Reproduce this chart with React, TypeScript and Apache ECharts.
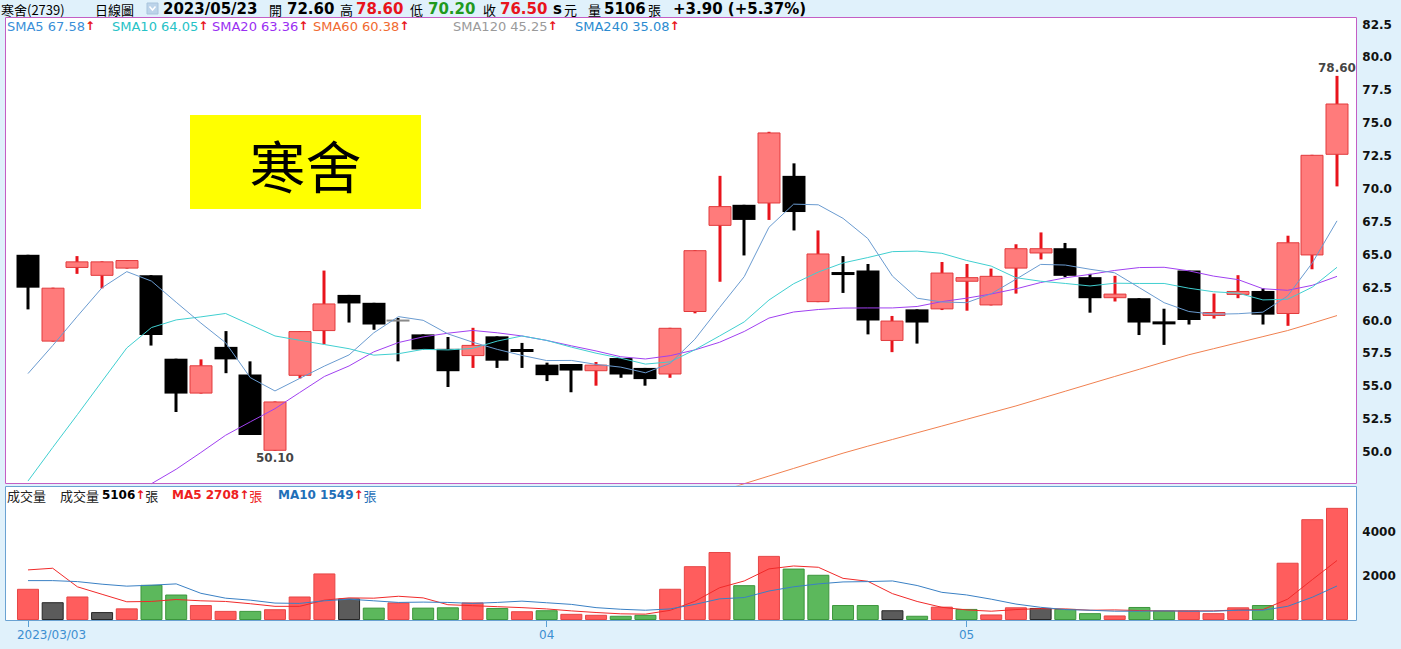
import React, { useEffect, useRef } from 'react';
import * as echarts from 'echarts';

// ---------- data ----------
const dates = [
  '2023/03/03', '2023/03/06', '2023/03/07', '2023/03/08', '2023/03/09', '2023/03/10',
  '2023/03/13', '2023/03/14', '2023/03/15', '2023/03/16', '2023/03/17',
  '2023/03/20', '2023/03/21', '2023/03/22', '2023/03/23', '2023/03/24',
  '2023/03/27', '2023/03/28', '2023/03/29', '2023/03/30', '2023/03/31',
  '2023/04/06', '2023/04/07', '2023/04/10', '2023/04/11', '2023/04/12', '2023/04/13', '2023/04/14',
  '2023/04/17', '2023/04/18', '2023/04/19', '2023/04/20', '2023/04/21',
  '2023/04/24', '2023/04/25', '2023/04/26', '2023/04/27', '2023/04/28',
  '2023/05/02', '2023/05/03', '2023/05/04', '2023/05/05',
  '2023/05/08', '2023/05/09', '2023/05/10', '2023/05/11', '2023/05/12',
  '2023/05/15', '2023/05/16', '2023/05/17', '2023/05/18', '2023/05/19',
  '2023/05/22', '2023/05/23',
];

const opens = [
  65.0, 58.4, 64.0, 63.4, 63.95, 63.45, 57.1, 54.45, 58.0, 55.9, 50.1,
  55.8, 59.2, 61.95, 61.35, 60.0, 58.95, 57.85, 57.3, 58.8, 57.75,
  56.65, 56.7, 56.15, 57.15, 56.4, 55.9, 60.65, 67.2, 68.8, 68.9, 71.0, 61.4,
  63.6, 63.8, 58.45, 60.85, 60.85, 62.95, 61.15, 63.95, 65.1, 65.5, 63.3, 61.7,
  61.7, 59.85, 63.8, 60.35, 61.95, 62.25, 60.5, 64.95, 72.6,
];
const highs = [
  65.0, 62.5, 64.9, 64.5, 64.6, 63.45, 57.1, 57.05, 59.2, 56.9, 53.85,
  59.2, 63.8, 61.95, 61.35, 60.2, 58.95, 58.75, 59.45, 58.8, 58.3,
  56.8, 56.7, 56.85, 57.15, 56.4, 59.45, 65.35, 71.0, 68.8, 74.35, 71.95, 66.85,
  64.9, 64.3, 60.35, 60.85, 64.45, 64.3, 63.95, 65.8, 66.7, 65.9, 63.55, 63.4,
  61.7, 60.9, 63.8, 62.05, 63.45, 62.45, 66.45, 72.6, 78.6,
];
const lows = [
  60.85, 58.4, 63.55, 62.45, 63.95, 58.1, 53.05, 54.45, 56.0, 51.3, 50.1,
  55.6, 58.2, 59.85, 59.3, 56.9, 57.8, 54.95, 56.4, 56.4, 56.4,
  55.4, 54.55, 55.05, 55.65, 55.05, 55.65, 60.55, 62.95, 64.95, 67.65, 66.85, 61.4,
  62.1, 58.95, 57.6, 58.25, 60.8, 60.75, 61.15, 62.05, 64.65, 63.3, 60.6, 61.45,
  58.9, 58.15, 59.7, 60.15, 61.7, 59.7, 59.6, 63.9, 70.2,
];
const closes = [
  62.5, 62.5, 64.5, 64.5, 64.6, 58.9, 54.45, 56.6, 57.05, 51.3, 53.85,
  59.2, 61.3, 61.3, 59.7, 60.0, 57.8, 56.15, 58.15, 56.95, 57.7,
  55.85, 56.2, 56.65, 55.9, 55.55, 59.45, 65.35, 68.7, 67.65, 74.3, 68.25, 65.1,
  63.55, 60.0, 60.0, 59.85, 63.65, 63.3, 63.4, 65.5, 65.5, 63.4, 61.7, 62.05,
  59.85, 59.8, 60.05, 60.65, 62.25, 60.45, 65.95, 72.6, 76.5,
];
const volumes = [
  1420, 810, 1070, 360, 530, 1600, 1160, 680, 415, 415, 490,
  1070, 2120, 980, 563, 800, 563, 578, 800, 548, 400,
  444, 281, 237, 193, 237, 1422, 2450, 3096, 1585, 2919, 2341, 2059,
  681, 681, 444, 193, 607, 504, 252, 578, 548, 504, 311, 207,
  593, 430, 430, 311, 578, 681, 2607, 4590, 5106,
];

const sma5 = [
  55.97, 58.1, 60.33, 62.5, 63.72, 63.0, 61.39, 59.81, 58.32, 55.66, 54.65,
  55.6, 56.54, 57.39, 59.07, 60.3, 60.02, 58.99, 58.36, 57.81, 57.35,
  56.96, 56.97, 56.67, 56.46, 56.03, 56.75, 58.58, 60.99, 63.34, 67.09, 68.85, 68.8,
  67.77, 66.24, 63.38, 61.7, 61.41, 61.36, 62.04, 63.14, 64.27, 64.22, 63.9, 63.63,
  62.5, 61.36, 60.69, 60.48, 60.52, 60.64, 61.87, 64.38, 67.58,
];
const sma10 = [
  47.8, 50.35, 52.85, 55.39, 57.92, 59.47, 60.05, 60.28, 60.54, 59.69, 58.83,
  58.5, 58.18, 57.86, 57.37, 57.48, 57.81, 57.77, 57.88, 58.44, 58.83,
  58.49, 57.98, 57.52, 57.14, 56.69, 56.86, 57.78, 58.83, 59.9, 61.56, 62.8, 63.69,
  64.38, 64.79, 65.24, 65.28, 65.11, 64.57, 64.14, 63.26, 62.99, 62.82, 62.63, 62.84,
  62.82, 62.82, 62.46, 62.19, 62.08, 61.57, 61.62, 62.54, 64.05,
];
const sma20 = [
  null, null, null, null, null, 47.6, 48.7, 49.97, 51.28, 52.3, 53.3,
  54.53, 55.75, 56.55, 57.62, 58.33, 58.76, 59.04, 59.25, 59.07, 58.83,
  58.49, 58.08, 57.69, 57.25, 57.08, 57.33, 57.77, 58.35, 59.17, 60.19, 60.65, 60.84,
  60.95, 60.96, 60.96, 61.07, 61.44, 61.7, 62.02, 62.41, 62.89, 63.25, 63.51, 63.81,
  64.03, 64.05, 63.78, 63.38, 63.11, 62.42, 62.3, 62.68, 63.36,
];
const sma60 = [
  null, null, null, null, null, null, null, null, null, null, null,
  null, null, null, null, null, null, null, null, null, null,
  null, null, null, null, null, null, null, 47.0, 47.6, 48.18, 48.76, 49.34,
  49.92, 50.45, 50.96, 51.47, 51.98, 52.49, 53.0, 53.51, 54.07, 54.63, 55.19, 55.75,
  56.3, 56.86, 57.4, 57.86, 58.32, 58.78, 59.24, 59.8, 60.38,
];
const sma120Last = 45.25;
const sma240Last = 35.08;

const volMa5 = [
  2281, 2356, 1511, 1170, 830, 844, 933, 874, 844, 741, 622,
  622, 904, 1007, 993, 1081, 1007, 696, 652, 607, 563,
  504, 415, 341, 281, 267, 440, 850, 1467, 1778, 2326, 2459, 2400,
  1896, 1763, 1200, 844, 578, 459, 400, 474, 519, 504, 444, 459,
  430, 415, 415, 415, 459, 474, 948, 1837, 2708,
];
const volMa10 = [
  1793, 1793, 1748, 1630, 1541, 1585, 1644, 1215, 993, 904, 770,
  756, 874, 948, 874, 800, 815, 800, 756, 800, 859,
  785, 711, 563, 489, 444, 504, 711, 963, 1022, 1319, 1511, 1644,
  1733, 1748, 1778, 1570, 1259, 1141, 948, 726, 578, 474, 444, 400,
  400, 415, 400, 400, 444, 444, 622, 1037, 1549,
];

const priceTicks = [50, 52.5, 55, 57.5, 60, 62.5, 65, 67.5, 70, 72.5, 75, 77.5, 80, 82.5];
const volumeTicks = [2000, 4000];
const stockName = '寒舍(2739)';
const stockTitle = '寒舍';

// ---------- colors ----------
const BG = '#e0f1fb';
const RED = '#e8141c';
const GREEN = '#1f9a1f';

export default function App() {
  const ref = useRef<HTMLDivElement>(null);

  useEffect(() => {
    if (!ref.current) return;
    const chart = echarts.init(ref.current, null, { renderer: 'svg' });
    const n = dates.length;
    const last = n - 1;

    const candleData = dates.map((_, i) => [i, opens[i], closes[i], lows[i], highs[i]]);

    const volData = volumes.map((v, i) => {
      const prev = i > 0 ? closes[i - 1] : -Infinity;
      let color = '#ff5d5d', border = '#e64646';
      if (closes[i] < prev) { color = '#5cb85c'; border = '#3c963c'; }
      else if (closes[i] === prev) { color = '#5b5b5b'; border = '#262626'; }
      return { value: v, itemStyle: { color, borderColor: border, borderWidth: 1 } };
    });

    const showLabelIdx = (idx: number) => {
      if (idx === 0) return true;
      return dates[idx].slice(5, 7) !== dates[idx - 1].slice(5, 7);
    };

    let hiIdx = 0, loIdx = 0;
    highs.forEach((h, i) => { if (h > highs[hiIdx]) hiIdx = i; });
    lows.forEach((l, i) => { if (l < lows[loIdx]) loIdx = i; });

    const prevClose = closes[last - 1];
    const chg = closes[last] - prevClose;
    const pct = (chg / prevClose) * 100;
    const sign = chg >= 0 ? '+' : '-';

    const numFont = 'DejaVu Sans';
    const cjk = 'Noto Sans CJK TC';

    const headerItems: any[] = [
      { x: 1, text: stockName, size: 13, bold: false, color: '#000', font: cjk },
      { x: 95, text: '日線圖', size: 13, bold: false, color: '#000', font: cjk },
      { x: 163, text: dates[last], size: 15, bold: true, color: '#000', font: numFont },
      { x: 269, text: '開', size: 13, bold: false, color: '#000', font: cjk },
      { x: 287, text: opens[last].toFixed(2), size: 15, bold: true, color: '#000', font: numFont },
      { x: 340, text: '高', size: 13, bold: false, color: '#000', font: cjk },
      { x: 356, text: highs[last].toFixed(2), size: 15, bold: true, color: RED, font: numFont },
      { x: 410, text: '低', size: 13, bold: false, color: '#000', font: cjk },
      { x: 428, text: lows[last].toFixed(2), size: 15, bold: true, color: GREEN, font: numFont },
      { x: 483, text: '收', size: 13, bold: false, color: '#000', font: cjk },
      { x: 500, text: closes[last].toFixed(2), size: 15, bold: true, color: RED, font: numFont },
      { x: 553, text: 's', size: 15, bold: true, color: '#000', font: numFont },
      { x: 564, text: '元', size: 13, bold: false, color: '#000', font: cjk },
      { x: 588, text: '量', size: 13, bold: false, color: '#000', font: cjk },
      { x: 604, text: String(volumes[last]), size: 15, bold: true, color: '#000', font: numFont },
      { x: 648, text: '張', size: 13, bold: false, color: '#000', font: cjk },
      { x: 673, text: `${sign}${Math.abs(chg).toFixed(2)} (${sign}${Math.abs(pct).toFixed(2)}%)`, size: 15, bold: true, color: '#000', font: numFont },
    ];

    const legendItems = [
      { x: 7, name: 'SMA5', v: sma5[last] as number, color: '#3a8fd8' },
      { x: 112, name: 'SMA10', v: sma10[last] as number, color: '#26c2c6' },
      { x: 212, name: 'SMA20', v: sma20[last] as number, color: '#9a2ff2' },
      { x: 313, name: 'SMA60', v: sma60[last] as number, color: '#f06a30' },
      { x: 453, name: 'SMA120', v: sma120Last, color: '#9a9a9a' },
      { x: 575, name: 'SMA240', v: sma240Last, color: '#2b8bd0' },
    ];

    const graphics: any[] = [
      { type: 'rect', z: -10, shape: { x: 5, y: 17, width: 1352, height: 467 }, style: { fill: '#ffffff' } },
      { type: 'rect', z: -10, shape: { x: 5, y: 486, width: 1352, height: 135 }, style: { fill: '#ffffff' } },
      { type: 'rect', z: 50, shape: { x: 5.5, y: 17.5, width: 1351, height: 466 }, style: { fill: 'none', stroke: '#c45ec4', lineWidth: 1 } },
      { type: 'rect', z: 50, shape: { x: 5.5, y: 486.5, width: 1351, height: 134 }, style: { fill: 'none', stroke: '#6aa2d2', lineWidth: 1 } },
      { type: 'rect', z: 50, shape: { x: 147, y: 3, width: 11, height: 11 }, style: { fill: '#bcd4ea', stroke: '#a9c4dc', lineWidth: 1 } },
      { type: 'polyline', z: 51, shape: { points: [[149.5, 6.5], [152.5, 10], [155.5, 6.5]] }, style: { stroke: '#ffffff', lineWidth: 1.5, fill: 'none' } },
      { type: 'rect', z: 40, shape: { x: 190, y: 115, width: 231, height: 94 }, style: { fill: '#ffff00' } },
      {
        type: 'text', z: 41, x: 305.5, y: 163,
        style: { text: stockTitle, fontSize: 56, fontFamily: cjk, fill: '#000', align: 'center', verticalAlign: 'middle' },
      },
      {
        type: 'text', z: 60, x: 7, y: 495,
        style: { text: '成交量', fontSize: 13, fontFamily: cjk, fill: '#222', verticalAlign: 'middle' },
      },
      {
        type: 'text', z: 60, x: 60, y: 495,
        style: {
          text: `{n|成交量 }{b|${volumes[last]}}{r|↑}{n|張}`, verticalAlign: 'middle',
          rich: {
            n: { fontSize: 13, fontFamily: cjk, fill: '#222' },
            b: { fontSize: 12, fontFamily: numFont, fontWeight: 'bold', fill: '#000' },
            r: { fontSize: 12, fontFamily: numFont, fontWeight: 'bold', fill: RED },
          },
        },
      },
      {
        type: 'text', z: 60, x: 172, y: 495,
        style: {
          text: `{b|MA5 ${volMa5[last]}}{r|↑}{n|張}`, verticalAlign: 'middle',
          rich: {
            n: { fontSize: 13, fontFamily: cjk, fill: '#ee2020' },
            b: { fontSize: 12, fontFamily: numFont, fontWeight: 'bold', fill: '#ee2020' },
            r: { fontSize: 12, fontFamily: numFont, fontWeight: 'bold', fill: RED },
          },
        },
      },
      {
        type: 'text', z: 60, x: 278, y: 495,
        style: {
          text: `{b|MA10 ${volMa10[last]}}{r|↑}{n|張}`, verticalAlign: 'middle',
          rich: {
            n: { fontSize: 13, fontFamily: cjk, fill: '#1f6fb8' },
            b: { fontSize: 12, fontFamily: numFont, fontWeight: 'bold', fill: '#1f6fb8' },
            r: { fontSize: 12, fontFamily: numFont, fontWeight: 'bold', fill: RED },
          },
        },
      },
    ];

    headerItems.forEach((h) => {
      graphics.push({
        type: 'text', z: 60, x: h.x, y: 9,
        style: {
          text: h.text, fontSize: h.size, fontFamily: h.font,
          fontWeight: h.bold ? 'bold' : 'normal', fill: h.color, verticalAlign: 'middle',
        },
      });
    });

    legendItems.forEach((l) => {
      graphics.push({
        type: 'text', z: 60, x: l.x, y: 26,
        style: {
          text: `{a|${l.name} ${l.v.toFixed(2)}}{r|↑}`, verticalAlign: 'middle',
          rich: {
            a: { fontSize: 13, fontFamily: numFont, fill: l.color },
            r: { fontSize: 12, fontFamily: numFont, fontWeight: 'bold', fill: RED },
          },
        },
      });
    });

    const gridLeft = 15.65;
    const gridWidth = 1333.7;

    const lineSeries = (name: string, data: any[], color: string, x: number, y: number, z = 5) => ({
      name, type: 'line', data, xAxisIndex: x, yAxisIndex: y, symbol: 'none', z,
      lineStyle: { color, width: 1 }, connectNulls: false, silent: true,
    });

    const option: any = {
      animation: false,
      backgroundColor: BG,
      grid: [
        { left: gridLeft, width: gridWidth, top: 18, height: 467 },
        { left: gridLeft, width: gridWidth, top: 486, height: 134 },
      ],
      xAxis: [
        {
          type: 'category', gridIndex: 0, data: dates, boundaryGap: true,
          axisLine: { show: false }, axisTick: { show: false }, axisLabel: { show: false }, splitLine: { show: false },
        },
        {
          type: 'category', gridIndex: 1, data: dates, boundaryGap: true,
          axisLine: { show: false },
          axisTick: {
            show: true, alignWithLabel: true, length: 7,
            interval: (idx: number) => showLabelIdx(idx),
            lineStyle: { color: '#5a9fd4', width: 1 },
          },
          axisLabel: {
            show: true, margin: 9, fontSize: 12, fontFamily: numFont, color: '#3d8fd1',
            interval: (idx: number) => showLabelIdx(idx),
            formatter: (val: string, idx: number) => (idx === 0 ? `{f|${val}}` : val.slice(5, 7)),
            rich: { f: { padding: [0, 0, 0, 47], fontSize: 12, fontFamily: numFont, color: '#3d8fd1' } },
          },
          splitLine: { show: false },
        },
      ],
      yAxis: [
        {
          type: 'value', gridIndex: 0, position: 'right', min: 47.5, max: 83, interval: 2.5, scale: true,
          axisLine: { show: false }, axisTick: { show: false }, splitLine: { show: false },
          axisLabel: {
            margin: 13, fontSize: 12, fontWeight: 'bold', fontFamily: numFont, color: '#111',
            formatter: (v: number) => (priceTicks.some((t) => Math.abs(t - v) < 1e-6) ? v.toFixed(1) : ''),
          },
        },
        {
          type: 'value', gridIndex: 1, position: 'right', min: 0, max: 6100, interval: 2000,
          axisLine: { show: false }, axisTick: { show: false }, splitLine: { show: false },
          axisLabel: {
            margin: 13, fontSize: 12, fontWeight: 'bold', fontFamily: numFont, color: '#111',
            formatter: (v: number) => (volumeTicks.includes(v) ? String(v) : ''),
          },
        },
      ],
      series: [
        {
          type: 'custom', name: 'K', xAxisIndex: 0, yAxisIndex: 0, z: 3, clip: true,
          data: candleData,
          encode: { x: 0, y: [1, 2, 3, 4] },
          renderItem: (params: any, api: any) => {
            const i = api.value(0);
            const o = api.value(1), c = api.value(2), l = api.value(3), h = api.value(4);
            const pO = api.coord([i, o]);
            const pC = api.coord([i, c]);
            const pL = api.coord([i, l]);
            const pH = api.coord([i, h]);
            const bw = api.size([1, 0])[0] * 0.93;
            const cx = Math.round(pO[0]);
            const up = c > o;
            const flat = c === o;
            const wickColor = up ? RED : '#000000';
            const top = Math.min(pO[1], pC[1]);
            const bh = Math.abs(pO[1] - pC[1]);
            const children: any[] = [
              {
                type: 'rect',
                shape: { x: cx - 1.5, y: pH[1], width: 3, height: Math.max(pL[1] - pH[1], 0) },
                style: { fill: wickColor },
              },
            ];
            if (flat) {
              children.push({ type: 'rect', shape: { x: cx - bw / 2, y: top - 1, width: bw, height: 2 }, style: { fill: '#8a8a8a' } });
            } else if (up) {
              children.push({
                type: 'rect',
                shape: { x: cx - bw / 2 + 0.5, y: top + 0.5, width: bw - 1, height: Math.max(bh - 1, 2) },
                style: { fill: '#ff7b7b', stroke: '#e23a3c', lineWidth: 1 },
              });
            } else {
              const hh = Math.max(bh, 3);
              children.push({
                type: 'rect',
                shape: { x: cx - bw / 2, y: top - (hh - bh) / 2, width: bw, height: hh },
                style: { fill: '#000000' },
              });
            }
            return { type: 'group', children };
          },
        },
        lineSeries('SMA60', sma60, '#f08050', 0, 0, 4),
        lineSeries('SMA20', sma20, '#a040f0', 0, 0, 5),
        lineSeries('SMA10', sma10, '#40cfd0', 0, 0, 5),
        lineSeries('SMA5', sma5, '#6a9bd0', 0, 0, 6),
        {
          type: 'scatter', xAxisIndex: 0, yAxisIndex: 0, z: 10, symbolSize: 1, silent: true,
          itemStyle: { color: 'rgba(0,0,0,0)' },
          data: [
            { value: [hiIdx, highs[hiIdx]], label: { position: 'top' } },
            { value: [loIdx, lows[loIdx]], label: { position: 'bottom' } },
          ],
          label: {
            show: true, distance: 1, fontSize: 12, fontWeight: 'bold', fontFamily: numFont, color: '#111',
            formatter: (p: any) => Number(p.value[1]).toFixed(2),
          },
        },
        {
          type: 'bar', name: 'VOL', xAxisIndex: 1, yAxisIndex: 1, barWidth: 22, z: 3,
          data: volData, silent: true,
        },
        lineSeries('MA5', volMa5, '#f02a2a', 1, 1, 6),
        lineSeries('MA10', volMa10, '#3a80c4', 1, 1, 6),
      ],
      graphic: graphics,
    };

    chart.setOption(option);
    return () => chart.dispose();
  }, []);

  return <div ref={ref} style={{ position: 'fixed', left: 0, top: 0, width: 1401, height: 649 }} />;
}
